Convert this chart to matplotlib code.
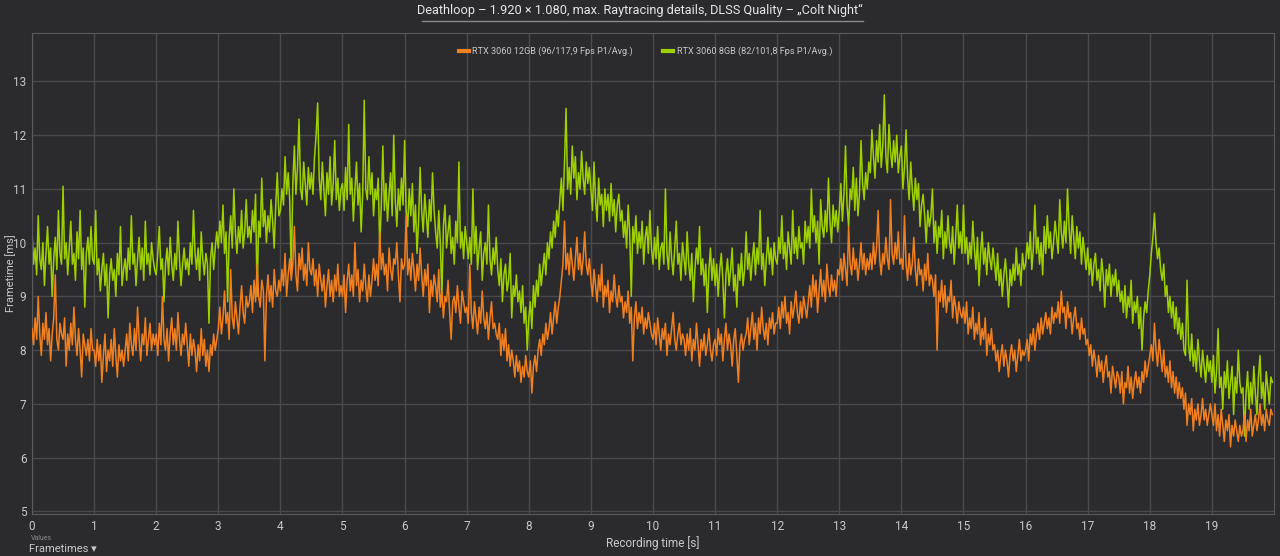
import numpy as np
import matplotlib
matplotlib.use("Agg")
import matplotlib.pyplot as plt
from matplotlib.lines import Line2D

plt.rcParams['font.family'] = ['Roboto', 'DejaVu Sans']

# Frametimes in ms, one row per half second (40 samples / s)
rtx3060_8gb = [
    10.2, 9.6, 9.9, 9.4, 10.5, 9.7, 9.5, 10.0, 9.2, 9.8, 10.3, 9.6, 9.9, 9.0, 9.7, 10.1, 9.5, 10.6, 9.8, 9.6,
    11.05, 9.7, 10.0, 9.4, 9.9, 10.4, 9.6, 9.8, 9.3, 10.2, 9.7, 10.6, 9.5, 9.9, 8.8, 9.8, 10.1, 9.6, 10.3, 9.7,
    9.6, 10.6, 9.4, 9.7, 9.1, 9.5, 9.8, 9.2, 9.6, 8.6, 9.4, 9.7, 9.3, 9.5, 9.0, 9.8, 9.4, 10.3, 9.2, 9.5,
    9.7, 9.3, 9.9, 9.5, 10.5, 9.6, 9.8, 9.2, 9.7, 10.1, 9.5, 9.9, 9.3, 10.4, 9.6, 9.8, 9.4, 10.0, 9.7, 9.5,
    9.4, 9.8, 10.3, 9.5, 9.7, 8.9, 9.6, 9.9, 9.4, 10.1, 9.6, 9.3, 9.8, 9.5, 10.4, 9.7, 9.2, 9.6, 9.9, 9.5,
    9.7, 9.4, 10.0, 9.6, 10.6, 9.8, 9.5, 9.9, 9.3, 10.2, 9.7, 9.4, 9.8, 9.6, 8.5, 9.7, 10.0, 9.5, 9.9, 10.2,
    9.9, 10.4, 10.0, 10.7, 9.8, 10.2, 8.9, 10.1, 10.5, 9.9, 11.0, 10.2, 9.8, 10.3, 10.0, 10.6, 9.9, 10.2, 10.8, 10.1,
    10.3, 10.0, 10.6, 10.2, 10.9, 9.0, 10.4, 10.1, 11.2, 10.3, 10.6, 10.0, 10.5, 10.2, 10.8, 10.4, 9.9, 10.7, 11.3, 10.5,
    10.6, 11.0, 10.7, 11.6, 10.9, 11.3, 10.8, 9.4, 11.1, 11.8, 10.9, 11.4, 12.3, 11.0, 10.8, 11.5, 11.1, 10.7, 11.4, 11.0,
    11.3, 10.9, 11.6, 12.0, 12.6, 11.2, 10.8, 11.5, 11.0, 10.5, 11.3, 10.9, 11.6, 10.7, 11.1, 11.9, 10.8, 11.2, 10.6, 11.0,
    11.1, 10.6, 11.4, 10.8, 12.2, 10.9, 11.2, 10.4, 11.0, 11.5, 10.7, 11.1, 10.2, 10.9, 12.65, 11.0, 10.8, 11.6, 10.9, 11.3,
    10.5, 11.0, 10.8, 11.2, 9.9, 10.7, 11.8, 10.6, 11.1, 10.4, 10.9, 11.3, 10.5, 12.0, 10.8, 10.3, 11.0, 10.6, 11.2, 10.7,
    11.9, 10.6, 10.3, 11.0, 10.5, 11.1, 10.2, 10.7, 9.8, 10.4, 11.4, 10.6, 10.2, 10.9, 10.5, 10.1, 10.8, 10.4, 11.3, 10.6,
    10.2, 9.9, 10.6, 10.0, 9.0, 10.3, 10.7, 9.9, 10.2, 10.5, 9.8, 10.1, 9.6, 10.4, 10.0, 11.5, 9.9, 10.2, 9.7, 10.3,
    10.0, 9.7, 10.1, 9.6, 11.0, 9.8, 10.3, 9.5, 9.9, 10.2, 9.3, 9.8, 10.0, 9.6, 10.7, 9.7, 9.4, 9.9, 9.6, 10.1,
    9.5, 9.2, 9.7, 8.9, 9.4, 9.6, 9.1, 9.3, 9.8, 8.6, 9.2, 9.0, 9.4, 8.9, 9.1, 8.7, 9.2, 8.5, 8.8, 8.0,
    8.6, 8.9, 8.4, 9.2, 8.8, 9.3, 9.0, 9.6, 9.2, 9.5, 9.8, 9.4, 10.0, 9.7, 10.2, 9.9, 10.4, 10.1, 10.6, 10.3,
    10.8, 11.2, 10.6, 11.5, 12.5, 11.0, 11.4, 10.9, 11.8, 11.2, 11.6, 10.8, 11.3, 11.0, 11.7, 11.2, 10.9, 11.5, 11.1, 11.4,
    11.0, 10.6, 11.5, 10.8, 10.4, 11.2, 10.7, 10.9, 10.3, 11.0, 10.6, 10.9, 10.4, 11.1, 10.5, 10.8, 10.2, 10.7, 10.9, 10.4,
    10.6, 10.1, 10.4, 9.9, 10.7, 10.2, 9.0, 10.3, 10.0, 10.5, 9.8, 10.2, 9.9, 10.4, 9.6, 10.1, 10.3, 9.8, 10.6, 9.9,
    9.6, 10.1, 9.7, 10.3, 9.5, 9.9, 10.0, 9.6, 11.0, 9.8, 9.5, 10.2, 9.7, 9.4, 9.9, 10.4, 9.6, 9.8, 9.3, 10.0,
    9.7, 9.4, 10.2, 9.6, 9.3, 9.8, 8.9, 9.5, 9.9, 9.6, 10.3, 9.4, 9.7, 9.2, 9.6, 8.7, 9.5, 9.9, 9.3, 9.7,
    9.2, 9.6, 9.0, 9.5, 9.8, 9.3, 8.6, 9.4, 9.7, 9.2, 9.5, 9.9, 9.1, 9.4, 8.8, 9.6, 9.3, 9.8, 9.2, 9.5,
    10.2, 9.5, 9.8, 9.3, 9.7, 10.0, 9.4, 9.9, 9.6, 10.6, 9.5, 9.8, 9.2, 9.7, 10.1, 9.6, 9.9, 9.4, 10.0, 9.7,
    9.6, 10.1, 9.8, 10.5, 9.7, 10.0, 9.5, 10.2, 9.9, 9.6, 10.6, 9.8, 10.1, 9.7, 10.3, 9.9, 10.0, 9.6, 10.4, 10.0,
    10.3, 9.9, 11.0, 10.2, 10.5, 10.0, 10.4, 9.6, 10.8, 10.3, 10.1, 10.6, 10.2, 11.2, 10.4, 10.0, 10.7, 10.3, 10.6, 10.2,
    10.6, 11.1, 10.4, 10.9, 11.8, 10.7, 10.3, 11.0, 10.8, 11.4, 10.6, 11.2, 10.5, 10.9, 11.9, 11.1, 10.8, 11.3, 11.0, 11.5,
    11.3, 12.1, 11.6, 11.2, 11.9, 11.5, 12.2, 11.4, 11.8, 12.75, 11.6, 11.3, 12.2, 11.7, 11.4, 11.9, 11.5, 12.0, 11.3, 11.6,
    11.8, 11.0, 11.4, 12.1, 11.2, 10.8, 11.5, 11.0, 10.6, 11.2, 10.8, 11.1, 10.3, 10.7, 10.9, 10.5, 10.0, 10.6, 10.3, 10.5,
    11.0, 10.0, 10.4, 9.8, 10.3, 10.1, 10.6, 9.7, 10.2, 9.9, 10.5, 10.0, 9.8, 10.3, 9.6, 10.1, 10.7, 9.9, 10.2, 9.8,
    10.7, 9.8, 10.1, 9.6, 10.0, 9.7, 10.4, 9.9, 9.5, 10.1, 9.2, 9.8, 10.2, 9.6, 9.9, 9.4, 10.0, 9.7, 9.5, 9.9,
    9.6, 9.3, 9.8, 9.2, 9.5, 9.0, 9.4, 9.7, 9.3, 8.8, 9.5, 9.2, 9.6, 9.3, 9.9, 9.4, 9.6, 9.2, 9.8, 9.5,
    9.6, 10.0, 9.7, 10.2, 9.5, 9.9, 10.7, 9.8, 10.1, 9.6, 10.0, 9.4, 10.3, 9.8, 10.5, 9.9, 10.2, 9.7, 10.0, 10.4,
    10.1, 9.8, 10.8, 10.2, 9.9, 10.4, 10.0, 11.0, 10.3, 9.8, 10.5, 10.1, 9.7, 10.3, 9.9, 10.2, 9.6, 10.1, 9.8, 9.5,
    9.9, 9.4, 9.7, 9.2, 9.6, 9.8, 9.3, 9.5, 9.1, 9.7, 9.4, 8.8, 9.5, 9.2, 9.6, 9.0, 9.4, 9.2, 9.5, 9.0,
    9.3, 8.9, 9.1, 8.7, 9.2, 8.6, 9.0, 8.8, 9.3, 8.5, 8.9, 8.7, 9.0, 8.4, 8.8, 8.0, 8.6, 8.9, 8.7, 9.1,
    9.4, 9.8, 10.1, 10.55, 10.0, 9.7, 9.9, 9.5, 9.3, 9.6, 9.0, 9.2, 8.7, 9.0, 8.6, 8.9, 8.4, 8.8, 8.3, 8.6,
    8.2, 8.5, 8.0, 7.9, 9.3, 8.1, 7.8, 8.3, 7.7, 8.0, 7.6, 8.2, 7.8, 7.5, 8.0, 7.7, 7.4, 7.9, 7.6, 7.8,
    7.4, 7.9, 7.2, 7.6, 8.4, 7.3, 7.5, 6.9, 7.6, 7.3, 7.8, 7.1, 7.4, 7.7, 6.8, 7.5, 7.2, 8.0, 7.4, 7.2,
    7.3, 6.4, 7.2, 7.6, 6.9, 7.4, 7.0, 7.7, 7.2, 6.8, 7.5, 7.9, 7.1, 7.4, 6.9, 7.6, 7.3, 7.0, 7.5, 7.4,
]

rtx3060_12gb = [
    8.4, 8.1, 8.6, 8.2, 9.0, 8.3, 7.9, 8.5, 8.2, 8.7, 8.1, 8.4, 7.8, 8.3, 8.6, 9.4, 8.2, 8.0, 8.5, 8.3,
    8.2, 8.6, 7.7, 8.3, 8.0, 8.5, 8.1, 8.8, 8.2, 7.9, 8.4, 8.0, 7.5, 8.3, 8.1, 7.9, 8.2, 7.8, 8.4, 8.0,
    8.0, 7.7, 8.2, 7.8, 8.1, 7.4, 7.9, 8.3, 7.6, 8.0, 7.8, 8.2, 7.7, 8.4, 7.9, 7.5, 8.1, 7.8, 8.0, 7.7,
    8.0, 8.3, 7.8, 8.5, 8.1, 7.9, 8.4, 8.0, 8.8, 8.2, 7.8, 8.3, 8.1, 8.6, 7.9, 8.2, 8.5, 8.0, 8.3, 8.1,
    8.3, 7.9, 8.5, 8.1, 9.0, 8.2, 8.0, 8.4, 7.8, 8.3, 8.6, 8.1, 8.4, 8.0, 8.7, 8.2, 7.9, 8.3, 8.1, 8.5,
    8.1, 7.7, 8.3, 7.9, 8.2, 8.0, 7.6, 8.1, 7.8, 8.4, 7.9, 8.2, 7.7, 8.0, 7.6, 8.1, 7.9, 8.3, 8.0, 8.2,
    8.4, 8.8, 8.3, 8.6, 9.1, 8.5, 8.7, 8.2, 9.5, 8.6, 8.4, 8.9, 8.6, 8.3, 8.8, 9.2, 8.7, 8.5, 9.0, 8.8,
    8.9, 9.2, 8.7, 9.3, 8.9, 9.6, 9.0, 8.8, 9.3, 9.1, 7.8, 9.0, 9.4, 8.9, 9.2, 8.8, 9.5, 9.1, 9.0, 9.3,
    9.1, 9.5, 9.2, 9.8, 9.0, 9.4, 9.7, 9.3, 9.6, 10.3, 9.4, 9.1, 9.8, 9.5, 9.9, 9.3, 9.6, 9.2, 10.0, 9.5,
    9.4, 9.7, 9.2, 9.5, 9.0, 9.6, 9.3, 9.1, 9.4, 8.8, 9.2, 9.5, 9.0, 9.3, 8.9, 9.4, 9.1, 9.6, 9.0, 9.2,
    9.0, 9.4, 8.7, 9.3, 9.6, 9.1, 9.4, 9.0, 10.0, 9.2, 9.5, 8.9, 9.3, 9.1, 9.6, 9.2, 8.9, 9.4, 9.0, 9.3,
    9.7, 9.3, 9.6, 9.2, 10.2, 9.5, 9.8, 9.4, 9.6, 9.1, 9.9, 9.5, 9.3, 9.7, 9.6, 10.0, 9.4, 8.9, 9.7, 9.5,
    9.6, 10.5, 9.4, 9.7, 9.3, 9.8, 9.5, 9.1, 9.6, 9.3, 9.9, 9.4, 9.0, 9.5, 9.2, 9.6, 8.7, 9.3, 9.0, 9.4,
    9.2, 8.9, 9.5, 8.8, 9.1, 8.6, 9.0, 8.9, 9.3, 8.7, 8.2, 8.9, 9.0, 8.7, 9.2, 8.8, 8.5, 9.1, 8.9, 8.7,
    8.8, 8.5, 9.6, 8.7, 8.4, 8.9, 8.6, 8.3, 8.8, 8.5, 9.1, 8.6, 8.4, 8.7, 8.2, 8.6, 8.9, 8.4, 8.5, 8.3,
    8.2, 8.5, 7.9, 8.3, 8.0, 8.4, 7.8, 8.1, 7.7, 8.0, 7.8, 7.5, 7.9, 7.6, 7.8, 7.4, 7.7, 7.5, 7.9, 7.6,
    7.5, 7.8, 7.2, 7.7, 7.9, 7.6, 8.0, 8.2, 7.9, 8.3, 8.1, 8.5, 8.2, 8.4, 8.7, 8.3, 8.6, 8.9, 8.5, 8.8,
    9.0, 9.3, 9.6, 10.4, 9.5, 9.8, 9.4, 9.9, 9.6, 9.3, 9.7, 10.1, 9.5, 9.8, 9.4, 9.7, 10.2, 9.6, 9.4, 9.7,
    9.3, 9.0, 9.5, 9.2, 8.9, 9.4, 9.1, 9.6, 8.8, 9.2, 9.0, 9.3, 8.7, 9.1, 8.9, 9.4, 9.0, 8.8, 9.2, 8.9,
    9.0, 8.6, 8.9, 8.7, 9.1, 8.5, 8.8, 7.8, 8.6, 8.9, 8.4, 8.7, 8.5, 8.8, 8.3, 8.6, 8.4, 8.7, 8.5, 8.3,
    8.2, 8.5, 8.1, 8.6, 8.3, 8.0, 8.4, 8.2, 8.5, 7.9, 8.3, 8.1, 8.4, 8.7, 8.2, 8.0, 8.3, 8.5, 8.1, 8.3,
    8.2, 7.9, 8.3, 8.0, 8.4, 7.8, 8.2, 8.0, 8.5, 8.1, 7.7, 8.2, 8.0, 8.3, 7.9, 8.1, 8.4, 8.0, 7.8, 8.1,
    8.2, 7.9, 8.4, 8.1, 8.3, 7.8, 8.2, 8.5, 8.0, 8.3, 8.1, 7.7, 8.2, 8.4, 7.9, 7.4, 8.1, 8.3, 8.0, 8.2,
    8.3, 8.6, 8.1, 8.4, 8.7, 8.2, 8.5, 8.0, 8.6, 8.3, 8.8, 8.4, 8.2, 8.5, 8.1, 8.6, 8.4, 8.7, 8.3, 8.5,
    8.5, 8.8, 8.4, 8.9, 8.6, 9.0, 8.5, 8.7, 8.3, 8.9, 8.6, 8.8, 9.1, 8.7, 8.5, 8.9, 8.6, 9.0, 8.8, 8.6,
    8.9, 9.2, 8.8, 9.4, 9.0, 9.3, 8.7, 9.1, 9.5, 9.0, 9.3, 8.9, 9.6, 9.2, 9.0, 9.4, 9.1, 9.3, 9.0, 9.5,
    9.4, 9.7, 9.3, 9.8, 9.5, 9.2, 10.3, 9.6, 9.4, 9.9, 9.5, 9.7, 9.3, 9.6, 10.0, 9.5, 9.8, 9.4, 9.7, 9.5,
    9.8, 9.5, 10.0, 9.6, 9.9, 10.6, 9.7, 9.4, 9.8, 9.6, 10.1, 9.7, 9.5, 10.8, 9.8, 9.6, 10.0, 9.7, 10.2, 9.6,
    9.7, 9.5, 10.5, 9.6, 9.3, 9.8, 9.4, 9.6, 10.1, 9.5, 9.2, 9.7, 9.4, 9.5, 9.1, 9.6, 9.3, 9.8, 9.2, 9.4,
    9.3, 9.0, 9.4, 8.0, 9.1, 8.9, 9.3, 8.8, 9.2, 8.7, 9.0, 8.9, 9.3, 8.6, 9.0, 8.8, 8.5, 8.9, 8.7, 8.6,
    8.8, 8.5, 8.9, 8.3, 8.6, 8.4, 8.8, 8.2, 8.5, 8.3, 8.7, 8.1, 8.4, 8.2, 8.6, 7.9, 8.3, 8.1, 8.4, 8.0,
    8.1, 7.8, 8.0, 7.6, 7.9, 8.1, 7.7, 8.0, 7.8, 7.5, 7.9, 8.1, 7.8, 8.0, 7.6, 7.9, 8.2, 7.8, 8.0, 7.9,
    8.0, 8.2, 7.8, 8.3, 8.1, 8.4, 8.0, 8.3, 8.5, 8.2, 8.6, 8.3, 8.5, 8.7, 8.4, 8.6, 8.3, 8.8, 8.5, 8.7,
    8.6, 8.9, 8.5, 9.1, 8.7, 8.8, 8.4, 8.9, 8.6, 8.7, 8.3, 8.6, 8.8, 8.4, 8.5, 8.2, 8.6, 8.3, 8.4, 8.1,
    8.2, 7.9, 8.1, 7.7, 8.0, 7.8, 7.5, 7.9, 7.6, 7.8, 7.4, 7.7, 7.9, 7.5, 7.6, 7.2, 7.7, 7.5, 7.3, 7.6,
    7.5, 7.2, 7.6, 7.0, 7.4, 7.3, 7.7, 7.2, 7.5, 7.1, 7.4, 7.6, 7.3, 7.5, 7.2, 7.6, 7.4, 7.8, 7.5, 7.7,
    7.9, 8.1, 7.8, 8.5, 8.0, 7.7, 8.2, 7.9, 7.6, 8.0, 7.5, 7.7, 7.4, 7.8, 7.3, 7.6, 7.2, 7.5, 7.1, 7.4,
    7.1, 7.3, 6.9, 7.2, 6.6, 7.0, 6.8, 7.1, 6.5, 6.9, 6.7, 7.0, 6.6, 6.8, 7.1, 6.7, 6.9, 6.6, 6.8, 7.0,
    6.8, 6.6, 7.0, 6.5, 6.8, 6.4, 6.9, 6.6, 6.3, 6.7, 6.5, 6.8, 6.2, 6.6, 6.4, 6.7, 6.5, 6.3, 6.6, 6.4,
    6.5, 6.8, 6.3, 6.7, 6.5, 6.9, 6.4, 6.6, 6.8, 6.5, 6.7, 7.0, 6.6, 6.8, 6.5, 6.9, 6.7, 6.6, 6.9, 6.8,
]

labels = ["RTX 3060 12GB (96/117,9 Fps P1/Avg.)", "RTX 3060 8GB (82/101,8 Fps P1/Avg.)"]
colors = ["#f07f1f", "#9ed000"]
samples_per_sec = 40

bg = "#2b2b2e"
txt = "#c8c8c8"

fig = plt.figure(figsize=(12.8, 5.56), dpi=100, facecolor=bg)
ax = fig.add_axes([0.025, 0.0755, 0.9703, 0.865], facecolor=bg)

ax.plot(np.arange(len(rtx3060_8gb)) / samples_per_sec, rtx3060_8gb, color=colors[1], lw=1.1, zorder=2)
ax.plot(np.arange(len(rtx3060_12gb)) / samples_per_sec, rtx3060_12gb, color=colors[0], lw=1.1, zorder=3)

ax.set_xlim(0, 20)
ax.set_ylim(4.95, 13.9)
ax.set_xticks(range(0, 20))
ax.set_yticks(range(5, 14))
ax.grid(True, color="#4a4a4d", lw=1, zorder=0)
for s in ax.spines.values():
    s.set_color("#5a5a5d")
ax.tick_params(colors=txt, labelsize=8.5, length=0, pad=4)

fig.text(0.51, 0.023, "Recording time [s]", color=txt, fontsize=8.5, ha="center", va="center")
fig.text(0.008, 0.509, "Frametime [ms]", color=txt, fontsize=8, ha="center", va="center", rotation=90)

handles = [Line2D([], [], color=c, lw=3) for c in colors]
ax.legend(handles, labels, loc="center", bbox_to_anchor=(0.494, 0.9626), ncol=2,
          frameon=False, fontsize=6.6, handlelength=1.1, handletextpad=0.4,
          columnspacing=3.3, labelcolor=txt)

fig.text(0.5, 0.982, "Deathloop \u2013 1.920 \u00d7 1.080, max. Raytracing details, DLSS Quality \u2013 \u201eColt Night\u201c",
         ha="center", va="center", color="#e6e6e6", fontsize=9.2)
fig.add_artist(Line2D([0.3297, 0.674], [0.962, 0.962], color="#8a8a8a", lw=1))

fig.text(0.024, 0.032, "Values", color="#8a8a8a", fontsize=5, ha="left", va="center")
fig.text(0.023, 0.012, "Frametimes \u25be", color=txt, fontsize=8, ha="left", va="center")

fig.savefig("out.png", dpi=100, facecolor=bg)
